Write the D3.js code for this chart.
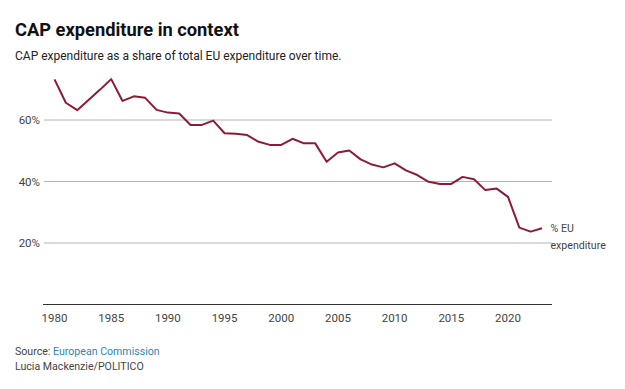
<!DOCTYPE html>
<html lang="en">
<head>
  <meta charset="UTF-8">
  <title>CAP expenditure in context</title>
  <script src="https://d3js.org/d3.v7.min.js"></script>
  <style>
    body { margin: 0; background: #fff; }
    svg text { font-family: "Roboto", sans-serif; }
    .title { font-size: 18.3px; font-weight: bold; fill: #111; }
    .subtitle { font-size: 12px; fill: #222; }
    .tick-label { font-size: 11.5px; fill: #444; }
    .note { font-size: 10.6px; fill: #444; }
  </style>
</head>
<body>
<svg id="chart"></svg>

<script>
  // years and CAP share of EU budget (%)
  var years = [1980, 1981, 1982, 1983, 1984, 1985, 1986, 1987, 1988, 1989,
               1990, 1991, 1992, 1993, 1994, 1995, 1996, 1997, 1998, 1999,
               2000, 2001, 2002, 2003, 2004, 2005, 2006, 2007, 2008, 2009,
               2010, 2011, 2012, 2013, 2014, 2015, 2016, 2017, 2018, 2019,
               2020, 2021, 2022, 2023];
  var share = [73.2, 65.6, 63.2, 66.5, 69.8, 73.3, 66.2, 67.7, 67.2, 63.3,
               62.4, 62.1, 58.4, 58.4, 59.8, 55.7, 55.5, 55.1, 52.9, 51.9,
               51.9, 53.9, 52.4, 52.4, 46.4, 49.4, 50.1, 47.2, 45.5, 44.6,
               45.9, 43.6, 42.1, 39.9, 39.2, 39.2, 41.5, 40.7, 37.2, 37.7,
               35.0, 25.0, 23.7, 24.8];
  var yTicks = [20, 40, 60];
  var xTicks = [1980, 1985, 1990, 1995, 2000, 2005, 2010, 2015, 2020];

  var W = 625, H = 389;
  var svg = d3.select("#chart").attr("width", W).attr("height", H);

  var plotLeft = 44, plotRight = 552;

  var x = d3.scaleLinear().domain([1980, 2020]).range([54.5, 508]);
  var y = d3.scaleLinear().domain([0, 20]).range([304.5, 243]);

  // title + subtitle
  svg.append("text").attr("class", "title").attr("x", 15).attr("y", 36)
     .text("CAP expenditure in context");
  svg.append("text").attr("class", "subtitle").attr("x", 15).attr("y", 60)
     .text("CAP expenditure as a share of total EU expenditure over time.");

  // gridlines
  var grid = svg.append("g");
  grid.selectAll("line").data(yTicks).enter().append("line")
      .attr("x1", plotLeft).attr("x2", plotRight)
      .attr("y1", function(d) { return y(d); })
      .attr("y2", function(d) { return y(d); })
      .attr("stroke", "#b4b4b4").attr("stroke-width", 1);
  grid.selectAll("text").data(yTicks).enter().append("text")
      .attr("class", "tick-label")
      .attr("x", 40).attr("y", function(d) { return y(d) + 4; })
      .attr("text-anchor", "end")
      .text(function(d) { return d + "%"; });

  // x axis
  var xAxis = svg.append("g").attr("transform", "translate(0," + y(0) + ")");
  xAxis.append("line").attr("x1", plotLeft - 1).attr("x2", plotRight)
       .attr("stroke", "#333").attr("stroke-width", 1.2);
  xAxis.selectAll("text").data(xTicks).enter().append("text")
       .attr("class", "tick-label")
       .attr("x", function(d) { return x(d); })
       .attr("y", 17)
       .attr("text-anchor", "middle")
       .text(function(d) { return d; });

  // the line
  var line = d3.line()
      .x(function(d, i) { return x(years[i]); })
      .y(function(d) { return y(d); });
  svg.append("path").datum(share)
     .attr("d", line)
     .attr("fill", "none")
     .attr("stroke", "#8e1b35")
     .attr("stroke-width", 2)
     .attr("stroke-linejoin", "round");

  // series label
  var last = share.length - 1;
  var lx = x(years[last]) + 8.5;
  var lbl = svg.append("text").attr("class", "note")
      .attr("x", lx).attr("y", y(share[last]) + 4);
  lbl.append("tspan").text("% EU");
  lbl.append("tspan").attr("x", lx).attr("dy", 17).text("expenditure");

  // footer
  var src = svg.append("text").attr("class", "note").attr("x", 15).attr("y", 355);
  src.append("tspan").text("Source: ");
  src.append("tspan").attr("fill", "#2b86b0").text("European Commission");
  svg.append("text").attr("class", "note").attr("x", 15).attr("y", 370)
     .text("Lucia Mackenzie/POLITICO");
</script>
</body>
</html>
